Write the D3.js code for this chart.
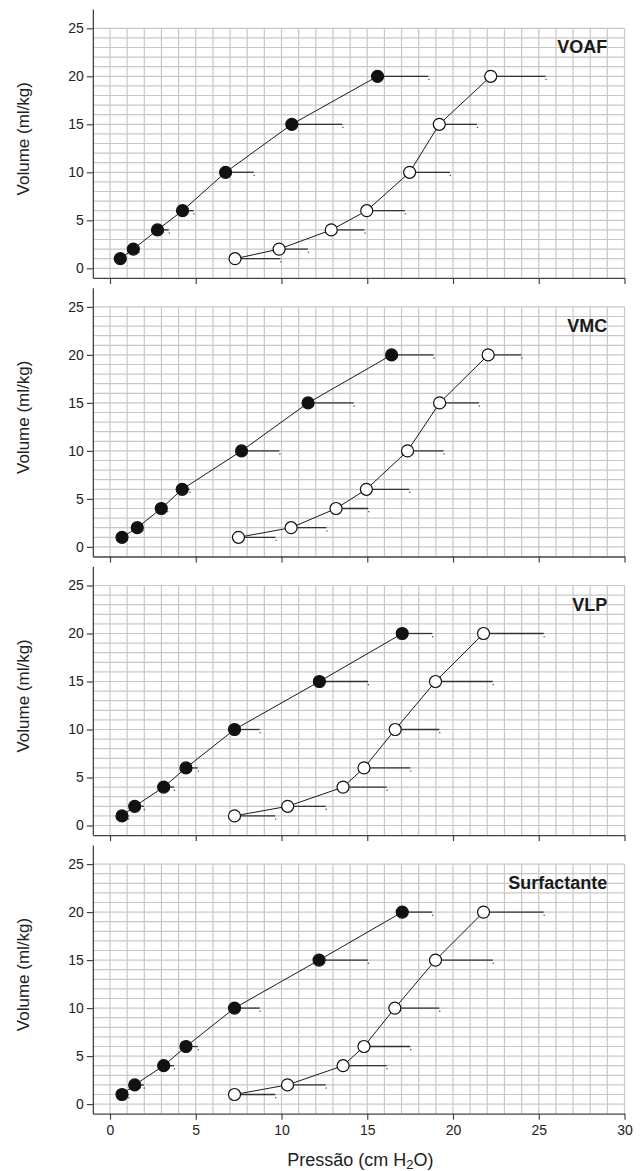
<!DOCTYPE html>
<html>
<head>
<meta charset="utf-8">
<script src="https://cdn.jsdelivr.net/npm/d3@7"></script>
<style>
  html, body { margin: 0; padding: 0; background: #fff; }
  svg { display: block; font-family: "Liberation Sans", Arial, sans-serif; }
</style>
</head>
<body>
<script>
// volumes (ml/kg), same for every curve
const volumes = [1, 2, 4, 6, 10, 15, 20];
const panelNames = ["VOAF", "VMC", "VLP", "Surfactante"];
const xTicks = [0, 5, 10, 15, 20, 25, 30];
const yTicks = [0, 5, 10, 15, 20, 25];

// inflation (filled) : mean pressure + SD
const voafInf = [0.6, 1.36, 2.77, 4.23, 6.74, 10.6, 15.6];
const voafInfSd = [0.2, 0.3, 0.66, 0.64, 1.64, 2.95, 2.97];
const vmcInf = [0.7, 1.59, 2.99, 4.21, 7.67, 11.55, 16.42];
const vmcInfSd = [0.2, 0.3, 0.35, 0.43, 2.21, 2.66, 2.45];
const vlpInf = [0.7, 1.44, 3.13, 4.43, 7.26, 12.21, 17.04];
const vlpInfSd = [0.37, 0.54, 0.6, 0.69, 1.47, 2.83, 1.75];
const surfInf = [0.7, 1.44, 3.13, 4.43, 7.26, 12.19, 17.04];
const surfInfSd = [0.37, 0.54, 0.6, 0.69, 1.47, 2.85, 1.75];

// deflation (open) : mean pressure + SD
const voafDef = [7.29, 9.86, 12.9, 14.97, 17.47, 19.2, 22.2];
const voafDefSd = [2.65, 1.68, 1.94, 2.22, 2.35, 2.2, 3.2];
const vmcDef = [7.49, 10.56, 13.18, 14.95, 17.35, 19.22, 22.05];
const vmcDefSd = [2.16, 2.06, 1.88, 2.5, 2.1, 2.29, 1.94];
const vlpDef = [7.26, 10.36, 13.59, 14.81, 16.63, 18.98, 21.78];
const vlpDefSd = [2.37, 2.22, 2.54, 2.7, 2.57, 3.34, 3.51];
const surfDef = [7.26, 10.35, 13.59, 14.81, 16.61, 18.98, 21.78];
const surfDefSd = [2.37, 2.23, 2.54, 2.7, 2.59, 3.34, 3.51];

const infAll = [voafInf, vmcInf, vlpInf, surfInf];
const infSdAll = [voafInfSd, vmcInfSd, vlpInfSd, surfInfSd];
const defAll = [voafDef, vmcDef, vlpDef, surfDef];
const defSdAll = [voafDefSd, vmcDefSd, vlpDefSd, surfDefSd];

const toPoints = (means, sds) => means.map((p, i) => ({ p: p, sd: sds[i], v: volumes[i] }));

const width = 642;
const height = 1171;
const unitY = 9.6; // px per ml/kg
const panelTop = 9.1;
const panelStep = 278.6;

const x = d3.scaleLinear().domain([-1, 30]).range([92.85, 624.5]);
const y = d3.scaleLinear().domain([-1, 27]).range([28 * unitY, 0]);

const svg = d3.select("body").append("svg").attr("width", width).attr("height", height);

const line = d3.line().x((d) => x(d.p)).y((d) => y(d.v));

panelNames.forEach((name, i) => {
  const last = i === panelNames.length - 1;
  const g = svg.append("g").attr("transform", `translate(0, ${panelTop + i * panelStep})`);

  // grid, 1 unit each way
  const grid = g.append("g").attr("stroke", "#c8c8c8").attr("stroke-width", 1.2);
  grid.selectAll(".vg")
    .data(d3.range(0, 31))
    .join("line")
    .attr("class", "vg")
    .attr("x1", (d) => x(d)).attr("x2", (d) => x(d))
    .attr("y1", y(25)).attr("y2", y(-1));
  grid.selectAll(".hg")
    .data(d3.range(0, 26))
    .join("line")
    .attr("class", "hg")
    .attr("x1", x(-1)).attr("x2", x(30))
    .attr("y1", (d) => y(d)).attr("y2", (d) => y(d));

  // axes
  const yAxis = d3.axisLeft(y).tickValues(yTicks).tickSize(6).tickSizeOuter(0).tickPadding(3);
  const xAxis = d3.axisBottom(x).tickValues(xTicks).tickSize(6).tickSizeOuter(0).tickPadding(5);
  if (!last) xAxis.tickFormat("");

  const ya = g.append("g").attr("transform", `translate(${x(-1)}, 0)`).call(yAxis);
  const xa = g.append("g").attr("transform", `translate(0, ${y(-1)})`).call(xAxis);
  [ya, xa].forEach((a) => {
    a.select(".domain").attr("stroke", "#444").attr("stroke-width", 1.3);
    a.selectAll(".tick line").attr("stroke", "#444").attr("stroke-width", 1.2);
    a.selectAll(".tick text").attr("fill", "#222").style("font-size", "14px")
      .style("font-family", "'Liberation Sans', Arial, sans-serif");
  });

  // y title
  g.append("text")
    .attr("transform", `translate(23, ${y(13.5)}) rotate(-90)`)
    .attr("text-anchor", "middle")
    .attr("dominant-baseline", "central")
    .attr("fill", "#222")
    .style("font-size", "17px")
    .text("Volume (ml/kg)");

  // panel name
  g.append("text")
    .attr("x", x(29)).attr("y", y(23))
    .attr("text-anchor", "end")
    .attr("dominant-baseline", "central")
    .attr("fill", "#1a1a1a")
    .style("font-size", "18px").style("font-weight", "bold")
    .text(name);

  const curves = [
    { pts: toPoints(infAll[i], infSdAll[i]), fill: "#111" },
    { pts: toPoints(defAll[i], defSdAll[i]), fill: "#fff" },
  ];

  curves.forEach((c) => {
    // SD bars (right side only)
    g.selectAll(null)
      .data(c.pts)
      .join("line")
      .attr("x1", (d) => x(d.p)).attr("x2", (d) => x(d.p + d.sd))
      .attr("y1", (d) => y(d.v)).attr("y2", (d) => y(d.v))
      .attr("stroke", "#333").attr("stroke-width", 1.3);
    g.selectAll(null)
      .data(c.pts)
      .join("rect")
      .attr("x", (d) => x(d.p + d.sd) - 0.2).attr("y", (d) => y(d.v) + 2.5)
      .attr("width", 1.3).attr("height", 1.3)
      .attr("fill", "#555");

    g.append("path")
      .datum(c.pts)
      .attr("d", line)
      .attr("fill", "none")
      .attr("stroke", "#1a1a1a")
      .attr("stroke-width", 1);

    g.selectAll(null)
      .data(c.pts)
      .join("circle")
      .attr("cx", (d) => x(d.p)).attr("cy", (d) => y(d.v))
      .attr("r", 6)
      .attr("fill", c.fill)
      .attr("stroke", "#111").attr("stroke-width", 1.2);
  });

  // x title under the last panel
  if (last) {
    const t = g.append("text")
      .attr("x", x(14.6)).attr("y", y(-1) + 46)
      .attr("text-anchor", "middle")
      .attr("dominant-baseline", "central")
      .attr("fill", "#222")
      .style("font-size", "18px");
    t.append("tspan").text("Pressão (cm H");
    t.append("tspan").attr("dy", 4).style("font-size", "13px").text("2");
    t.append("tspan").attr("dy", -4).text("O)");
  }
});
</script>
</body>
</html>
